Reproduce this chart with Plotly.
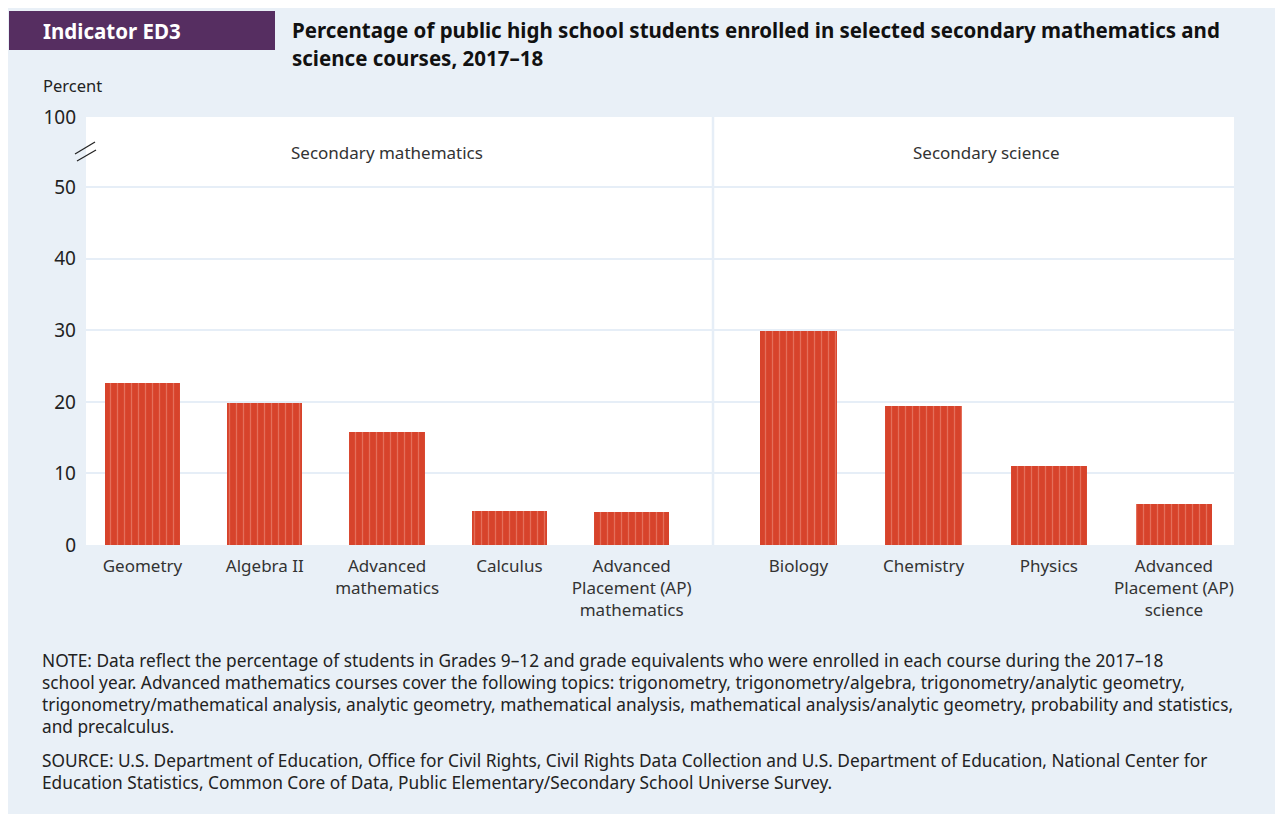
import plotly.graph_objects as go

# the page body adds an 8 px margin around the figure
OX, OY = 8, 8
W, H = 1283 - OX, 814 - OY
PL, PR, PT, PB = 86, 1234, 117, 545  # plot area in screen px

math_courses = ['Geometry', 'Algebra II', 'Advanced<br>mathematics', 'Calculus',
                'Advanced<br>Placement (AP)<br>mathematics']
math_values = [22.6, 19.9, 15.8, 4.7, 4.6]
sci_courses = ['Biology', 'Chemistry', 'Physics', 'Advanced<br>Placement (AP)<br>science']
sci_values = [29.9, 19.4, 11.0, 5.7]

ytick_vals = [0, 10, 20, 30, 40, 50, 59.8]
ytick_text = ['0', '10', '20', '30', '40', '50', '100']

note_lines = [
    'NOTE: Data reflect the percentage of students in Grades 9–12 and grade equivalents who were enrolled in each course during the 2017–18',
    'school year. Advanced mathematics courses cover the following topics: trigonometry, trigonometry/algebra, trigonometry/analytic geometry,',
    'trigonometry/mathematical analysis, analytic geometry, mathematical analysis, mathematical analysis/analytic geometry, probability and statistics,',
    'and precalculus.',
]
source_lines = [
    'SOURCE: U.S. Department of Education, Office for Civil Rights, Civil Rights Data Collection and U.S. Department of Education, National Center for',
    'Education Statistics, Common Core of Data, Public Elementary/Secondary School Universe Survey.',
]

BG = '#e9f0f7'
PURPLE = '#562e61'
RED = '#d7432b'
STRIPE = '#f29b8b'
GRID = '#e6eef7'
FONT = 'Noto Sans'


def px(x):
    return (x - PL) / (PR - PL)


def py(y):
    return (PB - y) / (PB - PT)


split = px(713)

bar_style = dict(
    color=RED,
    line=dict(width=0),
    pattern=dict(shape='|', size=7, solidity=0.18, fgcolor=STRIPE, bgcolor=RED),
)

fig = go.Figure()
fig.add_trace(go.Bar(x=math_courses, y=math_values, width=0.615, marker=bar_style,
                     xaxis='x', yaxis='y', showlegend=False))
fig.add_trace(go.Bar(x=sci_courses, y=sci_values, width=0.61, marker=bar_style,
                     xaxis='x2', yaxis='y', showlegend=False))

xcommon = dict(type='category', showgrid=False, zeroline=False, showline=False, ticks='',
               tickfont=dict(family=FONT, size=17, color='#333333'), ticklabelstandoff=9)

fig.update_layout(
    width=W, height=H,
    paper_bgcolor=BG, plot_bgcolor='white',
    margin=dict(l=PL - OX, r=W - (PR - OX), t=PT - OY, b=H - (PB - OY), pad=0),
    bargap=0,
    font=dict(family=FONT, color='#222222'),
    xaxis=dict(domain=[0, split], range=[-0.462, 4.665], **xcommon),
    xaxis2=dict(domain=[split, 1], range=[-0.683, 3.48], anchor='y', **xcommon),
    yaxis=dict(range=[0, 59.8], tickvals=ytick_vals, ticktext=ytick_text,
               showgrid=True, gridcolor=GRID, gridwidth=2, zeroline=False, showline=False,
               ticks='', ticklabelstandoff=9,
               tickfont=dict(family=FONT, size=19, color='#222222')),
)

shapes = [
    # indicator box
    dict(type='rect', xref='paper', yref='paper', x0=px(9), x1=px(275), y0=py(50), y1=py(11),
         fillcolor=PURPLE, line=dict(width=0)),
    # divider between panels
    dict(type='line', xref='paper', yref='paper', x0=split, x1=split, y0=0, y1=1,
         line=dict(color=GRID, width=2.5)),
    # axis break marks
    dict(type='line', xref='paper', yref='paper', x0=px(75), x1=px(95), y0=py(154), y1=py(142),
         line=dict(color='#222222', width=1.2)),
    dict(type='line', xref='paper', yref='paper', x0=px(77), x1=px(96), y0=py(161), y1=py(150),
         line=dict(color='#222222', width=1.2)),
]

annotations = [
    dict(text='<b>Indicator ED3</b>', x=px(41), y=py(31), xref='paper', yref='paper',
         xanchor='left', yanchor='middle', showarrow=False,
         font=dict(family=FONT, size=20.5, color='white')),
    dict(text='<b>Percentage of public high school students enrolled in selected secondary mathematics and</b>',
         x=px(290), y=py(30), xref='paper', yref='paper', xanchor='left', yanchor='middle',
         showarrow=False, font=dict(family=FONT, size=20.5, color='#111111')),
    dict(text='<b>science courses, 2017–18</b>',
         x=px(290), y=py(58), xref='paper', yref='paper', xanchor='left', yanchor='middle',
         showarrow=False, font=dict(family=FONT, size=20.5, color='#111111')),
    dict(text='Percent', x=px(41), y=py(86), xref='paper', yref='paper', xanchor='left',
         yanchor='middle', showarrow=False, font=dict(family=FONT, size=16.5, color='#222222')),
    dict(text='Secondary mathematics', x=2, y=py(152), xref='x', yref='paper',
         xanchor='center', yanchor='middle', showarrow=False,
         font=dict(family=FONT, size=17, color='#333333')),
    dict(text='Secondary science', x=1.5, y=py(152), xref='x2', yref='paper',
         xanchor='center', yanchor='middle', showarrow=False,
         font=dict(family=FONT, size=17, color='#333333')),
]

for i, line in enumerate(note_lines):
    annotations.append(dict(text=line, x=px(40), y=py(660 + 22 * i), xref='paper', yref='paper',
                            xanchor='left', yanchor='middle', showarrow=False,
                            font=dict(family=FONT, size=17.3, color='#222222')))
for i, line in enumerate(source_lines):
    annotations.append(dict(text=line, x=px(40), y=py(760 + 22 * i), xref='paper', yref='paper',
                            xanchor='left', yanchor='middle', showarrow=False,
                            font=dict(family=FONT, size=17.3, color='#222222')))

fig.update_layout(shapes=shapes, annotations=annotations)
fig.write_html('out.html')
